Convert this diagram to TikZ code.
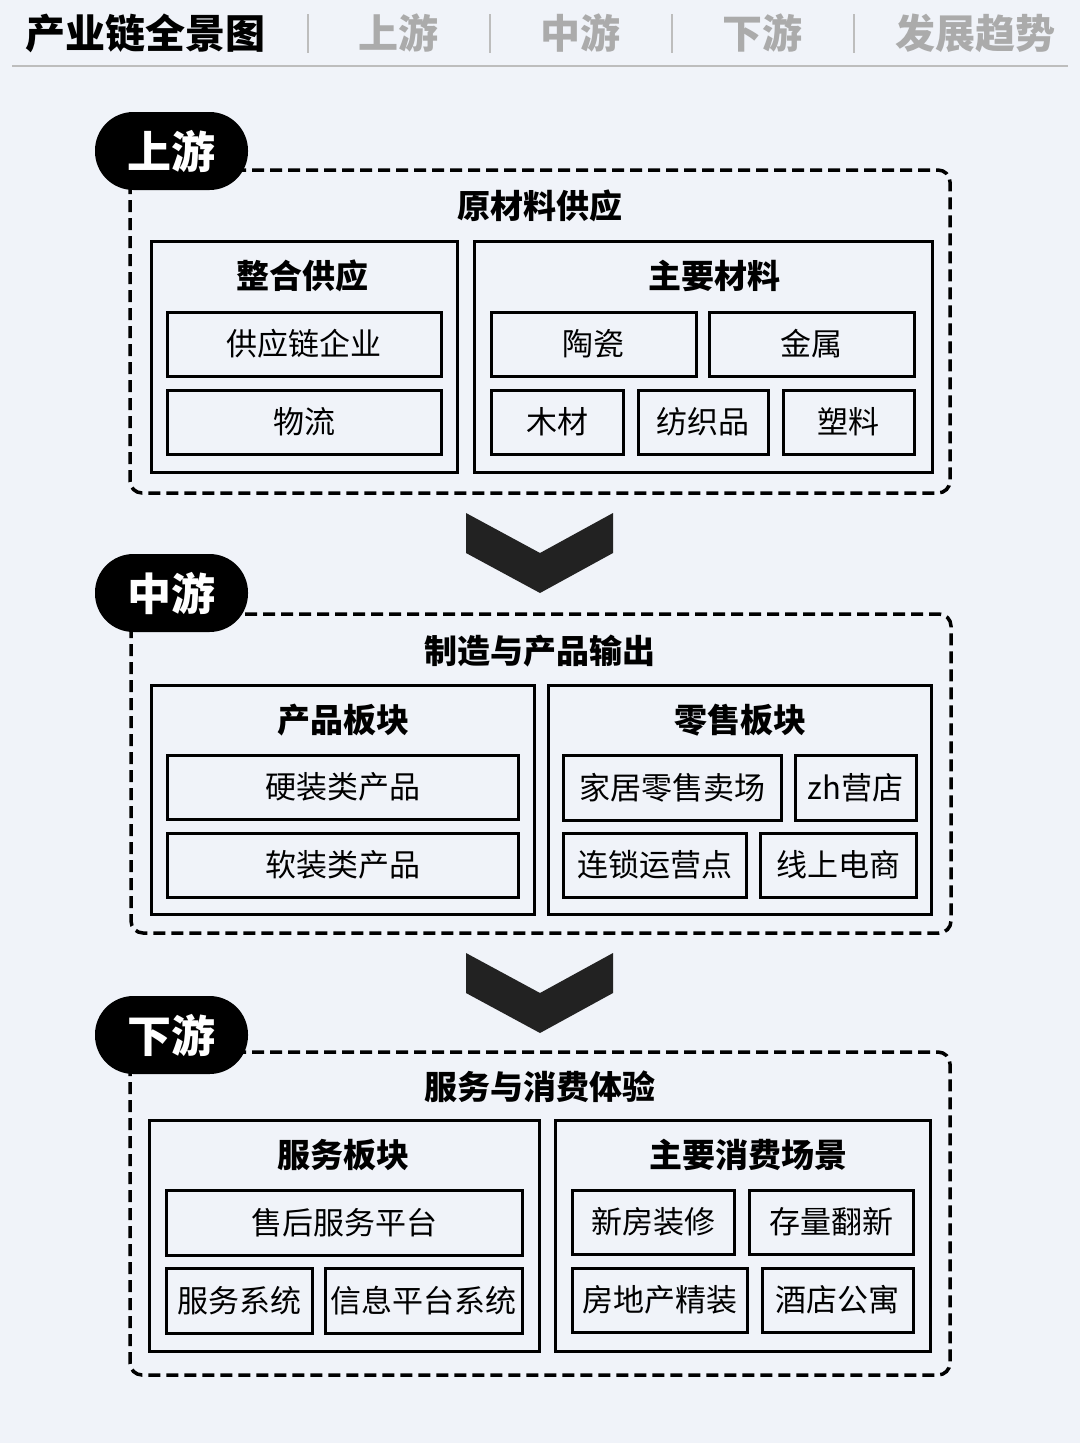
\documentclass[tikz,border=0pt]{standalone}
\usepackage{fontspec}
\setmainfont{Noto Sans CJK SC}
\definecolor{bgc}{HTML}{F0F3F9}
\definecolor{grayt}{HTML}{ABABAB}
\definecolor{sepc}{HTML}{BDBDBD}
\definecolor{chev}{HTML}{222222}
\newcommand\bx[6]{\node[itembox, minimum width={#4-#2}, minimum height={#5-#3}] (#1) at ({(#2+#4)/2},{(#3+#5)/2}) {#6};}
\begin{document}
\begin{tikzpicture}[x=1pt,y=-1pt,
  itembox/.style={draw=black, line width=3pt, inner sep=0pt, font=\fontsize{31}{34}\selectfont},
  sectitle/.style={inner sep=0pt, font=\bfseries\fontsize{33}{36}\selectfont},
  boxtitle/.style={inner sep=0pt, font=\bfseries\fontsize{33}{36}\selectfont},
  tagnode/.style={fill=black, text=white, rounded corners=38.5pt, minimum width=153pt, minimum height=78pt, inner sep=0pt, font=\bfseries\fontsize{44}{48}\selectfont},
  secframe/.style={draw=black, line width=3.5pt, dash pattern=on 12pt off 6pt, rounded corners=12pt},
  headgray/.style={inner sep=0pt, text=grayt, font=\bfseries\fontsize{40}{44}\selectfont},
  chevshape/.style={fill=chev}
]
\fill[bgc] (0,0) rectangle (1080,1443);
\useasboundingbox (0,0) rectangle (1080,1443);

% header
\node[inner sep=0pt, font=\bfseries\fontsize{40}{44}\selectfont] (hmain) at (145,33) {产业链全景图};
\node[headgray] (hup) at (398,33) {上游};
\node[headgray] (hmid) at (580,33) {中游};
\node[headgray] (hdown) at (762,33) {下游};
\node[headgray] (htrend) at (975,33) {发展趋势};
\foreach \sx in {308,490,672,854} \draw[sepc, line width=1.5pt] (\sx,14) -- (\sx,53);
\draw[sepc, line width=2pt] (12,66) -- (1068,66);

% ===== section 1 =====
\draw[secframe] (130,170) rectangle (950,493);
\node[tagnode] (tag1) at (171.5,151) {上游};
\node[sectitle] (s1title) at (540,206) {原材料供应};
\bx{s1l}{151}{241}{457}{472}{}
\node[boxtitle] (s1ltitle) at (302,276) {整合供应};
\bx{gyl}{167}{312}{441}{376}{供应链企业}
\bx{wl}{167}{390}{441}{454}{物流}
\bx{s1r}{474}{241}{932}{472}{}
\node[boxtitle] (s1rtitle) at (714,276) {主要材料};
\bx{tc}{491}{312}{696}{376}{陶瓷}
\bx{js}{709}{312}{914}{376}{金属}
\bx{mc}{491}{390}{623}{454}{木材}
\bx{fzp}{638}{390}{768}{454}{纺织品}
\bx{sl}{783}{390}{914}{454}{塑料}

% chevron 1
\fill[chevshape] (466,513) -- (540,553) -- (613,513) -- (613,553) -- (540,593) -- (466,553) -- cycle;

% ===== section 2 =====
\draw[secframe] (131,614) rectangle (951,933);
\node[tagnode] (tag2) at (171.5,593) {中游};
\node[sectitle] (s2title) at (540,651) {制造与产品输出};
\bx{s2l}{151}{685}{534}{914}{}
\node[boxtitle] (s2ltitle) at (343,720) {产品板块};
\bx{yz}{167}{755}{518}{819}{硬装类产品}
\bx{rz}{167}{833}{518}{897}{软装类产品}
\bx{s2r}{548}{685}{931}{914}{}
\node[boxtitle] (s2rtitle) at (740,720) {零售板块};
\bx{jj}{563}{755}{781}{820}{家居零售卖场}
\bx{zh}{795}{755}{916}{820}{zh营店}
\bx{ls}{563}{833}{746}{897}{连锁运营点}
\bx{xs}{760}{833}{916}{897}{线上电商}

% chevron 2
\fill[chevshape] (466,953) -- (540,993) -- (613,953) -- (613,993) -- (540,1033) -- (466,993) -- cycle;

% ===== section 3 =====
\draw[secframe] (130,1052) rectangle (950,1375);
\node[tagnode] (tag3) at (171.5,1035) {下游};
\node[sectitle] (s3title) at (540,1087) {服务与消费体验};
\bx{s3l}{149}{1120}{539}{1351}{}
\node[boxtitle] (s3ltitle) at (343,1155) {服务板块};
\bx{sh}{166}{1190}{522}{1255}{售后服务平台}
\bx{fw}{166}{1268}{312}{1333}{服务系统}
\bx{xx}{325}{1268}{522}{1333}{信息平台系统}
\bx{s3r}{555}{1120}{930}{1351}{}
\node[boxtitle] (s3rtitle) at (748,1155) {主要消费场景};
\bx{xf}{572}{1190}{734}{1254}{新房装修}
\bx{cl}{749}{1190}{913}{1254}{存量翻新}
\bx{fd}{572}{1268}{747}{1332}{房地产精装}
\bx{jd}{762}{1268}{913}{1332}{酒店公寓}
\end{tikzpicture}
\end{document}
